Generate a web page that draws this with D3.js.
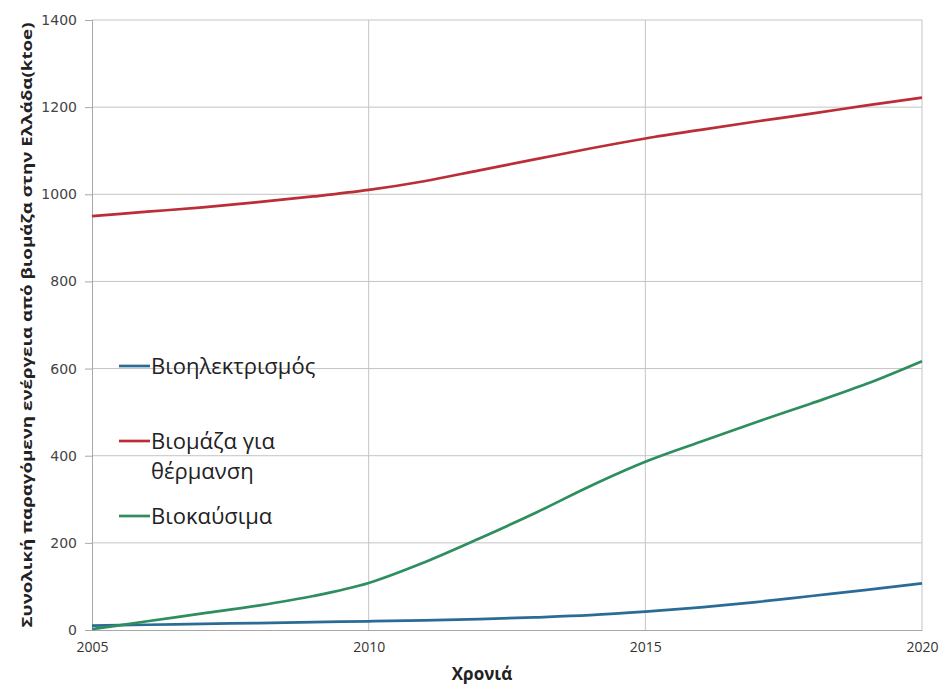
<!DOCTYPE html>
<html>
<head>
<meta charset="utf-8">
<script src="https://cdn.jsdelivr.net/npm/d3@7"></script>
<style>
body{margin:0;background:#fff;}
svg{display:block;}
</style>
</head>
<body>
<svg id="chart" width="943" height="685"></svg>
<script>
const years = [2005,2006,2007,2008,2009,2010,2011,2012,2013,2014,2015,2016,2017,2018,2019,2020];
const bioelectricity = [10,12,14,16,18,20,22,25,29,34,42,52,64,78,92,107];
const biomassHeating = [950,960,970,982,995,1010,1030,1055,1080,1105,1128,1148,1167,1185,1204,1222];
const biofuels = [2,20,38,56,78,108,155,210,268,330,386,432,477,520,565,617];
const seriesNames = ["Βιοηλεκτρισμός","Βιομάζα για θέρμανση","Βιοκαύσιμα"];
const seriesColors = ["#2a6c96","#bb2e38","#2e8e5e"];
const xTicks = [2005,2010,2015,2020];
const yTicks = [0,200,400,600,800,1000,1200,1400];
const yTitle = "Συνολική παραγόμενη ενέργεια από βιομάζα στην Ελλάδα(ktoe)";
const xTitle = "Χρονιά";

const svg = d3.select("#chart");
const m = {left:92, right:21, top:20, bottom:55};
const W = 943, H = 685;
const x = d3.scaleLinear().domain([2005,2020]).range([m.left, W - m.right]);
const y = d3.scaleLinear().domain([0,1400]).range([H - m.bottom, m.top]);

// gridlines
svg.append("g").selectAll("line").data(yTicks.filter(d=>d>0)).join("line")
  .attr("x1", m.left).attr("x2", W - m.right)
  .attr("y1", d=>y(d)).attr("y2", d=>y(d))
  .attr("stroke","#c4c4c4").attr("stroke-width",1);
svg.append("g").selectAll("line").data(xTicks.filter(d=>d>2005)).join("line")
  .attr("x1", d=>x(d)).attr("x2", d=>x(d))
  .attr("y1", m.top).attr("y2", H - m.bottom)
  .attr("stroke","#c4c4c4").attr("stroke-width",1);

// y axis
const yAxis = svg.append("g").attr("transform",`translate(${m.left},0)`)
  .call(d3.axisLeft(y).tickValues(yTicks).tickSize(7).tickPadding(8).tickFormat(d3.format("d")));
yAxis.select(".domain").attr("stroke","#a8a8a8");
yAxis.selectAll(".tick line").attr("stroke","#a8a8a8");
yAxis.selectAll("text").attr("font-family","'DejaVu Sans', Verdana, sans-serif").attr("font-size",14).attr("fill","#444");

// x axis
const xAxis = svg.append("g").attr("transform",`translate(0,${H - m.bottom})`)
  .call(d3.axisBottom(x).tickValues(xTicks).tickSize(0).tickPadding(12).tickFormat(d3.format("d")));
xAxis.select(".domain").attr("stroke","#a8a8a8");
xAxis.selectAll("text").attr("font-family","'Open Sans', 'DejaVu Sans', sans-serif").attr("font-size",14).attr("fill","#333");

// lines
const allSeries = [bioelectricity, biomassHeating, biofuels];
const line = d3.line().x((d,i)=>x(years[i])).y(d=>y(d)).curve(d3.curveMonotoneX);
svg.append("g").selectAll("path").data(allSeries).join("path")
  .attr("d", d=>line(d))
  .attr("fill","none")
  .attr("stroke",(d,i)=>seriesColors[i])
  .attr("stroke-width",2.7);

// legend (names wrapped at ~12 chars)
function wrap(s, maxc){
  const words = s.split(" "); const out = []; let cur = "";
  words.forEach(w=>{
    if(cur && (cur + " " + w).length > maxc){ out.push(cur); cur = w; }
    else cur = cur ? cur + " " + w : w;
  });
  if(cur) out.push(cur);
  return out;
}
const legendY = [366, 441, 516];
const lg = svg.append("g");
seriesNames.forEach((name,i)=>{
  lg.append("line").attr("x1",119).attr("x2",150).attr("y1",legendY[i]).attr("y2",legendY[i])
    .attr("stroke",seriesColors[i]).attr("stroke-width",2.7);
  const t = lg.append("text").attr("x",151).attr("y",legendY[i]+8)
    .attr("font-family","'Open Sans', 'DejaVu Sans', sans-serif").attr("font-size",22).attr("fill","#222");
  wrap(name, 12).forEach((s,k)=>{
    t.append("tspan").attr("x",151).attr("dy",k===0?0:30).text(s);
  });
});

// axis titles
svg.append("text")
  .attr("transform",`translate(32,${(m.top + H - m.bottom)/2}) rotate(-90)`)
  .attr("text-anchor","middle")
  .attr("textLength",605).attr("lengthAdjust","spacingAndGlyphs")
  .attr("font-family","'Open Sans', 'DejaVu Sans', sans-serif").attr("font-size",14.5).attr("font-weight","bold").attr("fill","#222")
  .text(yTitle);
svg.append("text")
  .attr("x",482).attr("y",680)
  .attr("text-anchor","middle")
  .attr("font-family","'Open Sans', 'DejaVu Sans', sans-serif").attr("font-size",17).attr("font-weight","bold").attr("fill","#222")
  .text(xTitle);
</script>
</body>
</html>
